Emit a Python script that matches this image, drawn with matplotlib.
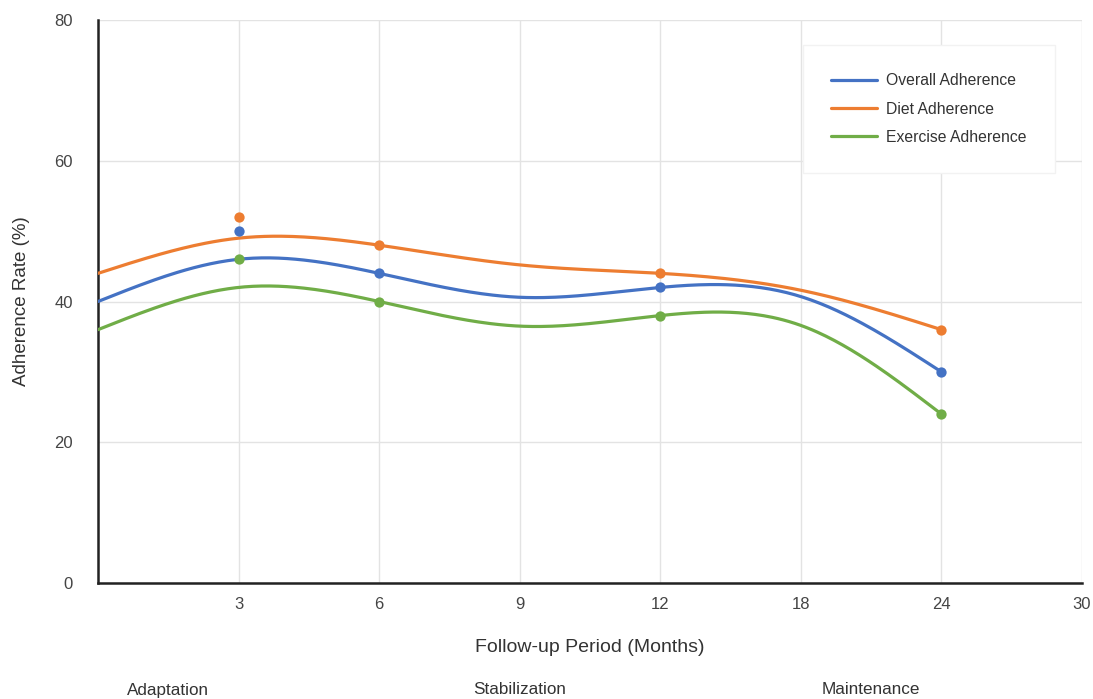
import numpy as np
import matplotlib
matplotlib.use("Agg")
import matplotlib.pyplot as plt
import matplotlib.transforms as mtransforms

plt.rcParams['font.family'] = ['Liberation Sans', 'DejaVu Sans']

# categories on the x axis (first slot is the unlabeled start)
months = ['', '3', '6', '9', '12', '18', '24', '30']

# smooth trend lines, read at each category slot (0..6)
overall_line = [40, 46, 44, 40.6, 42, 40.7, 30]
diet_line = [44, 49, 48, 45.2, 44, 41.6, 36]
exercise_line = [36, 42, 40, 36.5, 38, 36.6, 24]

# measured points
point_months = ['3', '6', '12', '24']
overall_pts = [50, 44, 42, 30]
diet_pts = [52, 48, 44, 36]
exercise_pts = [46, 40, 38, 24]

phases = ['Adaptation', 'Stabilization', 'Maintenance']
phase_pos = [0.5, 3, 5.5]

colors = {'Overall Adherence': '#4472C4',
          'Diet Adherence': '#ED7D31',
          'Exercise Adherence': '#70AD47'}


def natural_spline(x, y, n=300):
    # natural cubic spline, only used to draw the curve smoothly
    x = np.asarray(x, float)
    y = np.asarray(y, float)
    k = len(x)
    h = np.diff(x)
    A = np.zeros((k, k))
    b = np.zeros(k)
    A[0, 0] = A[-1, -1] = 1
    for i in range(1, k - 1):
        A[i, i - 1] = h[i - 1]
        A[i, i] = 2 * (h[i - 1] + h[i])
        A[i, i + 1] = h[i]
        b[i] = 6 * ((y[i + 1] - y[i]) / h[i] - (y[i] - y[i - 1]) / h[i - 1])
    M = np.linalg.solve(A, b)
    xs = np.linspace(x[0], x[-1], n)
    idx = np.clip(np.searchsorted(x, xs) - 1, 0, k - 2)
    x0, x1 = x[idx], x[idx + 1]
    hh = x1 - x0
    t0, t1 = x1 - xs, xs - x0
    ys = (M[idx] * t0**3 / (6 * hh) + M[idx + 1] * t1**3 / (6 * hh)
          + (y[idx] / hh - M[idx] * hh / 6) * t0
          + (y[idx + 1] / hh - M[idx + 1] * hh / 6) * t1)
    return xs, ys


fig = plt.figure(figsize=(10.93, 6.99), dpi=100)
ax = fig.add_axes([98 / 1093, 1 - 583 / 699, (1082 - 98) / 1093, (583 - 20) / 699])

line_x = np.arange(len(overall_line))
pt_x = [months.index(m) for m in point_months]

series = [('Overall Adherence', overall_line, overall_pts),
          ('Diet Adherence', diet_line, diet_pts),
          ('Exercise Adherence', exercise_line, exercise_pts)]

for name, line, pts in series:
    xs, ys = natural_spline(line_x, line)
    ax.plot(xs, ys, color=colors[name], lw=2.3, label=name, zorder=3,
            solid_capstyle='round')
    ax.scatter(pt_x, pts, s=55, color=colors[name], zorder=4, linewidths=0)

ax.set_xlim(0, len(months) - 1)
ax.set_ylim(0, 80)
ax.set_xticks(range(1, len(months)))
ax.set_xticklabels(months[1:])
ax.set_yticks([0, 20, 40, 60, 80])

ax.grid(True, color='#e3e3e3', lw=1)
ax.set_axisbelow(True)
for s in ['top', 'right']:
    ax.spines[s].set_visible(False)
for s in ['left', 'bottom']:
    ax.spines[s].set_linewidth(1.8)
    ax.spines[s].set_color('#222222')
ax.tick_params(length=0, labelsize=12, labelcolor='#444444')
ax.tick_params(axis='y', pad=18)
ax.tick_params(axis='x', pad=10)

ax.set_xlabel('Follow-up Period (Months)', fontsize=14, color='#333333', va='center')
ax.xaxis.set_label_coords(0.5, (583 - 648) / 563)
ax.set_ylabel('Adherence Rate (%)', fontsize=13.5, color='#333333', va='center')
ax.yaxis.set_label_coords((22 - 98) / 984, 0.5)

trans = mtransforms.blended_transform_factory(ax.transData, fig.transFigure)
for name, pos in zip(phases, phase_pos):
    ax.text(pos, 1 - 690 / 699, name, transform=trans, ha='center', va='center',
            fontsize=12.3, color='#333333')

leg = ax.legend(loc='upper right', bbox_to_anchor=((1055 - 98) / 984, (583 - 45) / 563),
                borderaxespad=0, frameon=True, fontsize=11.3, borderpad=1.8,
                labelspacing=0.85, handlelength=2.9, handletextpad=0.6,
                fancybox=False)
leg.get_frame().set_edgecolor('#f2f2f2')
leg.get_frame().set_facecolor('white')
leg.get_frame().set_alpha(1)
for t in leg.get_texts():
    t.set_color('#333333')

fig.savefig('out.png', dpi=100)
